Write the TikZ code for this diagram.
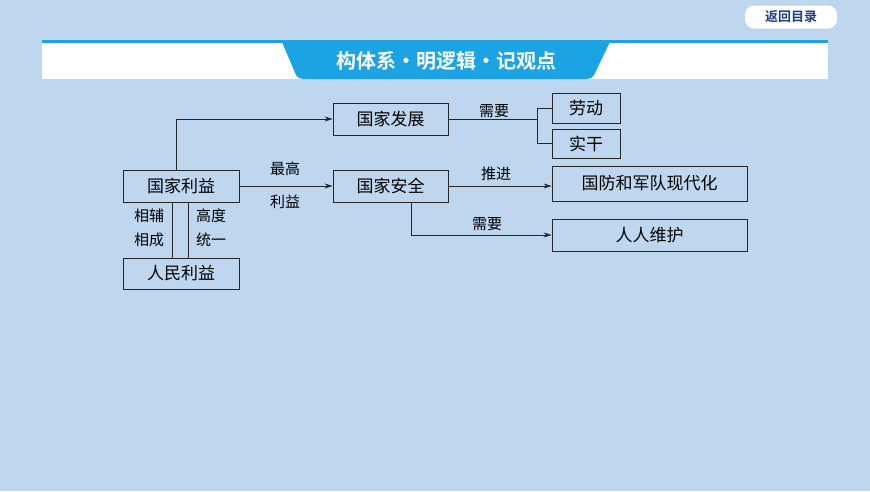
\documentclass[tikz,border=0pt]{standalone}
\usepackage{fontspec}
\setmainfont{Noto Sans CJK SC}
\newfontfamily\cjkb{Noto Sans CJK SC Bold}
\usetikzlibrary{arrows.meta}
\definecolor{bg}{HTML}{BED7EE}
\definecolor{tabblue}{HTML}{1BA3E3}
\definecolor{navy}{HTML}{1F3C88}
\tikzset{
  box/.style={draw=black!85,line width=0.8pt,minimum height=30pt,font=\fontsize{17}{19}\selectfont,inner sep=0pt},
  lbl/.style={font=\fontsize{15}{24}\selectfont,inner sep=0pt},
  conn/.style={draw=black!85,line width=0.7pt},
  arr/.style={conn,-{Stealth[length=8pt,width=5pt]}}
}
\begin{document}
\begin{tikzpicture}[x=1pt,y=-1pt]
\fill[bg] (0,0) rectangle (870,491);
\useasboundingbox (0,0) rectangle (870,491);
% header
\fill[white] (42,42) rectangle (828,79);
\fill[tabblue] (42,40) rectangle (828,43);
\fill[tabblue] (282,42) -- (610,42) -- (594,75) to[out=-120,in=0] (584,79) -- (306,79) to[out=180,in=-60] (296,75) -- cycle;
\node[text=white,font=\cjkb\fontsize{20}{22}\selectfont] (title) at (446,61) {构体系·明逻辑·记观点};
\node[fill=white,rounded corners=9pt,minimum width=92pt,minimum height=23pt,text=navy,font=\cjkb\fontsize{13}{15}\selectfont,inner sep=0pt] (back) at (791,17) {返回目录};
% boxes
\node[box,minimum width=115pt,minimum height=32pt] (fz) at (390.5,119) {国家发展};
\node[box,minimum width=68pt,minimum height=30pt] (ld) at (586,108) {劳动};
\node[box,minimum width=68pt,minimum height=29pt] (sg) at (586,143.5) {实干};
\node[box,minimum width=116pt,minimum height=32pt] (gl) at (181,186) {国家利益};
\node[box,minimum width=115pt,minimum height=32pt] (aq) at (390.5,186) {国家安全};
\node[box,minimum width=195pt,minimum height=35pt] (gf) at (649.5,183.5) {国防和军队现代化};
\node[box,minimum width=195pt,minimum height=32pt] (rr) at (649.5,235) {人人维护};
\node[box,minimum width=116pt,minimum height=31pt] (rm) at (181,273.5) {人民利益};
% connectors
\draw[arr] (gl.north -| 176,0) |- (fz.west);
\coordinate (j) at (537,119);
\draw[conn] (fz.east) -- (j);
\draw[conn] (ld.west -| j) -- (sg.west -| j);
\draw[conn] (ld.west -| j) -- (ld.west);
\draw[conn] (sg.west -| j) -- (sg.west);
\draw[arr] (gl.east) -- (aq.west);
\draw[arr] (aq.east) -- (aq.east -| gf.west);
\draw[arr] (aq.south -| 411,0) |- (rr.west);
\draw[conn] (gl.south -| 172,0) -- (rm.north -| 172,0);
\draw[conn] (gl.south -| 188,0) -- (rm.north -| 188,0);
% labels
\node[lbl] (l1) at (494,111) {需要};
\node[lbl] (l2) at (285,169) {最高};
\node[lbl] (l3) at (285,202) {利益};
\node[lbl] (l4) at (496,174) {推进};
\node[lbl] (l5) at (487,224) {需要};
\node[lbl,align=center] (l6) at (149,228) {相辅\\相成};
\node[lbl,align=center] (l7) at (211,228) {高度\\统一};
\end{tikzpicture}
\end{document}
